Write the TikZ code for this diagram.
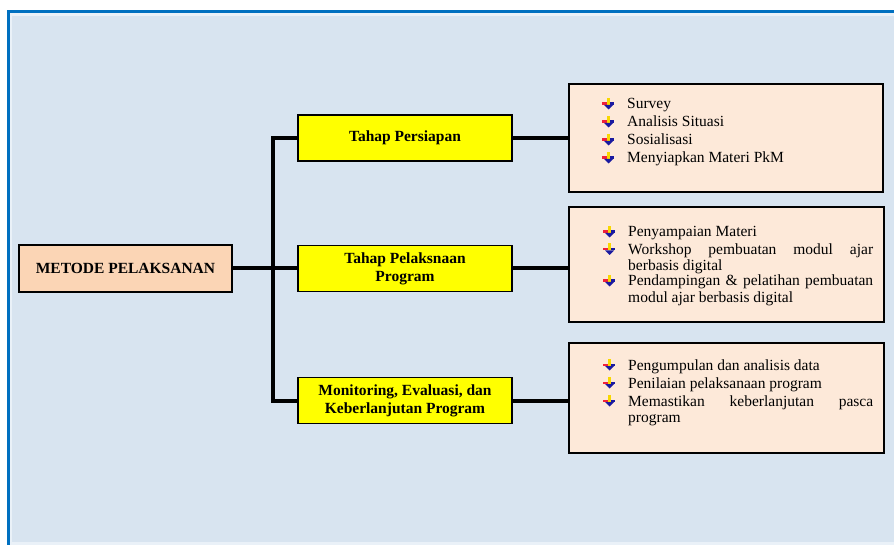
\documentclass[tikz,border=0pt]{standalone}
\usepackage{fontspec}
\setmainfont{Liberation Serif}
\definecolor{frameblue}{HTML}{0070C0}
\definecolor{bgblue}{HTML}{D8E4F0}
\definecolor{edgeblue}{HTML}{EAF1F8}
\definecolor{peach}{HTML}{FBD5B5}
\definecolor{listfill}{HTML}{FDE9D9}
\definecolor{stageyellow}{HTML}{FFFF00}
\definecolor{bulred}{HTML}{F0203A}
\definecolor{bulyellow}{HTML}{F8D800}
\definecolor{bulblue}{HTML}{1A1AA0}
\begin{document}
\begin{tikzpicture}[x=1pt,y=-1pt,
  boxbase/.style={draw=black, line width=1.6pt, inner sep=0pt, outer sep=0pt, align=center,
    font=\bfseries\fontsize{15.5}{18}\selectfont},
  mainbox/.style={boxbase, fill=peach, minimum width=213pt, minimum height=47pt},
  stagebox/.style={boxbase, fill=stageyellow, minimum width=214pt, minimum height=46pt},
  listbox/.style={draw=black, line width=1.6pt, fill=listfill, inner sep=0pt, outer sep=0pt},
  itemtext/.style={anchor=base west, inner sep=0pt, text width=245pt, align=justify,
    font=\fontsize{15.5}{16.5}\selectfont},
  conn/.style={line width=4pt, line join=miter},
  bul/.pic={
    \fill[bulred] (-25,-6.5) rectangle (-19,-4);
    \fill[bulyellow] (-20,-11) rectangle (-17.5,-4);
    \fill[bulblue] (-17.5,-6.5) rectangle (-13,-4);
    \fill[bulblue] (-23,-4) -- (-14,-4) -- (-18.5,0.5) -- cycle;
  }]
\useasboundingbox (0,0) rectangle (894,545);
% background and frame
\fill[white] (0,0) rectangle (894,545);
\fill[edgeblue] (10,13) rectangle (894,545);
\fill[bgblue] (12,16) rectangle (894,542);
\fill[frameblue] (7,10) rectangle (894,13);
\fill[frameblue] (7,10) rectangle (10,545);

% main and stage boxes
\node[mainbox] (metode) at (125.5,268.5) {METODE PELAKSANAN};
\node[stagebox] (p1) at (405,138) {Tahap Persiapan};
\node[stagebox] (p2) at (405,268.5) {Tahap Pelaksnaan\\Program};
\node[stagebox] (p3) at (405,400.5) {Monitoring, Evaluasi, dan\\Keberlanjutan Program};

% list boxes
\node[listbox, minimum width=314pt, minimum height=108pt] (r1) at (726,138) {};
\node[listbox, minimum width=315pt, minimum height=115pt] (r2) at (726.5,264.5) {};
\node[listbox, minimum width=315pt, minimum height=110pt] (r3) at (726.5,398) {};

% connectors
\coordinate (tk) at (273,268);
\draw[conn] (metode.east) -- (p2.west);
\draw[conn] (p1.west) -- (p1.west -| tk) -- (p3.west -| tk) -- (p3.west);
\draw[conn] (p1.east) -- (p1.east -| r1.west);
\draw[conn] (p2.east) -- (p2.east -| r2.west);
\draw[conn] (p3.east) -- (p3.east -| r3.west);

% items box 1
\node[itemtext] (a1) at (627,109) {Survey};
\node[itemtext] (a2) at (627,127) {Analisis Situasi};
\node[itemtext] (a3) at (627,145) {Sosialisasi};
\node[itemtext] (a4) at (627,163) {Menyiapkan Materi PkM};
% items box 2
\node[itemtext] (b1) at (628,237) {Penyampaian Materi};
\node[itemtext] (b2) at (628,254.5) {Workshop pembuatan modul ajar\linebreak berbasis digital};
\node[itemtext] (b3) at (628,286) {Pendampingan \& pelatihan pembuatan\linebreak modul ajar berbasis digital};
% items box 3
\node[itemtext] (c1) at (628,370) {Pengumpulan dan analisis data};
\node[itemtext] (c2) at (628,388) {Penilaian pelaksanaan program};
\node[itemtext] (c3) at (628,406) {Memastikan keberlanjutan pasca\linebreak program};

% bullets
\foreach \n in {a1,a2,a3,a4,b1,b2,b3,c1,c2,c3}
  \pic at (\n.base west) {bul};
\end{tikzpicture}
\end{document}
